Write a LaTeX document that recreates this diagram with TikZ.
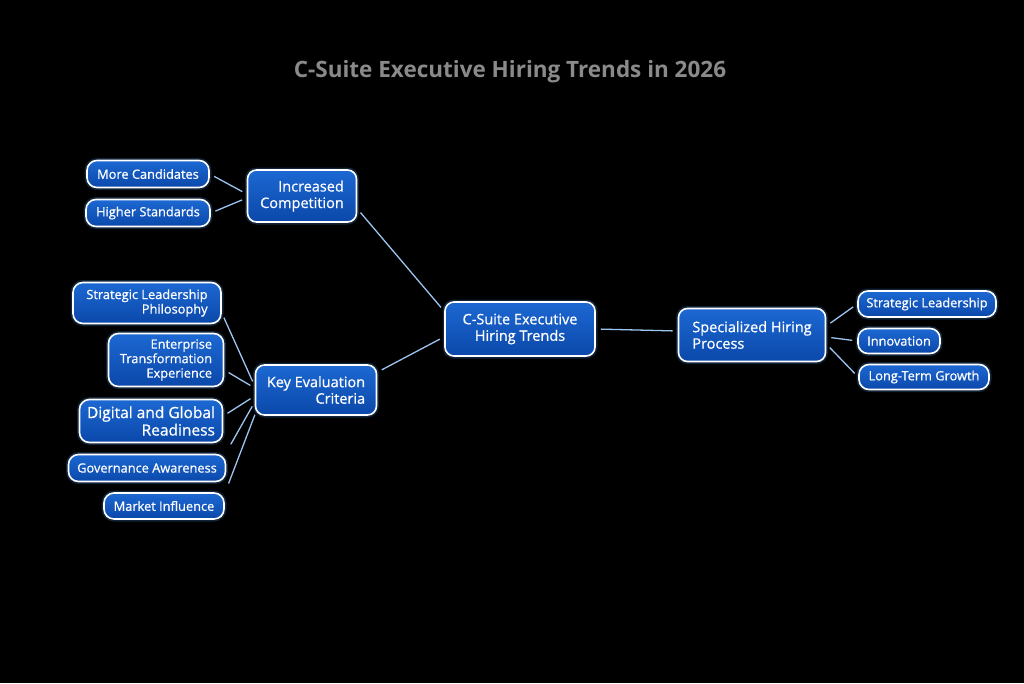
\documentclass[tikz,border=0pt]{standalone}
\usepackage{fontspec}
\setmainfont{Open Sans}
\newfontfamily\medfont{Open Sans}[FakeBold=0.7]
\usetikzlibrary{calc}
\definecolor{boxtop}{HTML}{1C68D2}
\definecolor{boxdark}{HTML}{0B48AA}
\definecolor{linecol}{HTML}{9CC4F0}
\definecolor{glowcol}{HTML}{4A8FE0}
\definecolor{titlecol}{HTML}{8A8A8A}
\tikzset{
  box/.style={draw=white, line width=1.6pt, rounded corners=9pt,
    top color=boxtop, bottom color=boxdark, text=white,
    inner sep=0pt, font=\medfont\fontsize{14.5}{16.5}\selectfont,
    preaction={draw=glowcol, line width=5pt, opacity=0.25}},
  leaf/.style={box, rounded corners=10pt, font=\medfont\fontsize{12.8}{14.5}\selectfont},
  conn/.style={draw=linecol, line width=1.3pt, shorten >=5pt, shorten <=5pt},
}
\begin{document}
\begin{tikzpicture}[x=1pt,y=-1pt]
\fill[black] (0,0) rectangle (1024,683);
\useasboundingbox (0,0) rectangle (1024,683);
\node[text=titlecol, font=\fontsize{22.5}{26}\selectfont\bfseries] (title) at (510,72) {C-Suite Executive Hiring Trends in 2026};

\node[box, minimum width=150pt, minimum height=54pt, align=center] (root) at (520,329) {C-Suite Executive\\Hiring Trends};
\node[box, minimum width=109pt, minimum height=52pt, align=right] (ic) at (302,196) {Increased\\Competition};
\node[box, minimum width=121pt, minimum height=50pt, align=right] (ke) at (316,390) {Key Evaluation\\Criteria};
\node[box, minimum width=147pt, minimum height=53pt, align=left] (sp) at (752,335) {Specialized Hiring\\Process};

\node[leaf, minimum width=122pt, minimum height=27pt] (mc) at (148,174) {More Candidates};
\node[leaf, minimum width=124pt, minimum height=27pt] (hs) at (148,213) {Higher Standards};

\node[leaf, minimum width=148pt, minimum height=41pt, align=right] (slp) at (147,303) {Strategic Leadership\\Philosophy};
\node[leaf, minimum width=115pt, minimum height=53pt, align=right] (ete) at (166,360) {Enterprise\\Transformation\\Experience};
\node[leaf, minimum width=143pt, minimum height=43pt, align=right, font=\medfont\fontsize{15.5}{17.5}\selectfont] (dgr) at (151,421) {Digital and Global\\Readiness};
\node[leaf, minimum width=157pt, minimum height=27pt] (ga) at (147,468) {Governance Awareness};
\node[leaf, minimum width=120pt, minimum height=26pt] (mi) at (164,506) {Market Influence};

\node[leaf, minimum width=138pt, minimum height=26pt] (sl) at (927,304) {Strategic Leadership};
\node[leaf, minimum width=82pt, minimum height=25pt] (inn) at (899,341) {Innovation};
\node[leaf, minimum width=130pt, minimum height=25pt] (ltg) at (924,377) {Long-Term Growth};

\draw[conn] ($(root.north west)+(0,10)$) -- ($(ic.south east)+(0,-14)$);
\draw[conn] ($(root.south west)+(0,-20)$) -- ($(ke.north east)+(0,8)$);
\draw[conn] (root.east) -- ($(sp.west)+(0,-4)$);

\draw[conn] (mc.east) -- ($(ic.west)+(0,-2)$);
\draw[conn] (hs.east) -- ($(ic.west)+(0,2)$);

\draw[conn] ($(slp.east)+(0,10)$) -- ($(ke.west)+(0,-4)$);
\draw[conn] ($(ete.east)+(0,10)$) -- ($(ke.west)+(0,-2)$);
\draw[conn] ($(dgr.east)+(0,-5)$) -- ($(ke.west)+(0,6)$);
\draw[conn] ($(ga.north east)+(2,-5)$) -- ($(ke.west)+(0,12)$);
\draw[conn] ($(mi.north east)+(2,-4)$) -- ($(ke.west)+(2,20)$);

\draw[conn] ($(sp.east)+(0,-9)$) -- (sl.west);
\draw[conn] ($(sp.east)+(0,2)$) -- (inn.west);
\draw[conn] ($(sp.east)+(0,9)$) -- (ltg.west);
\end{tikzpicture}
\end{document}
